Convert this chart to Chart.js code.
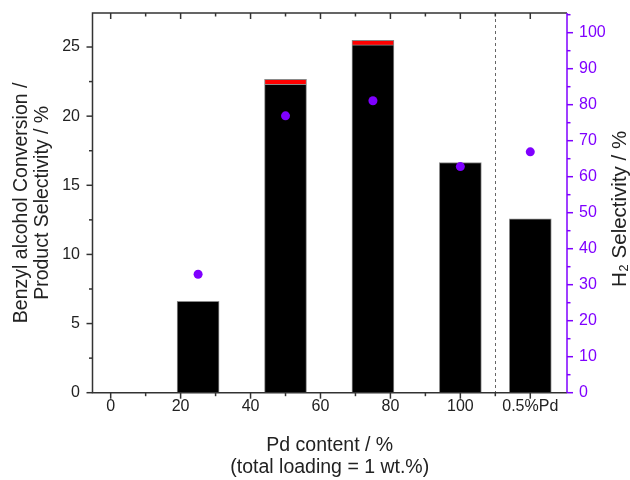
<!DOCTYPE html>
<html><head><meta charset="utf-8">
<script src="https://cdn.jsdelivr.net/npm/chart.js@4/dist/chart.umd.min.js"></script>
<style>html,body{margin:0;padding:0;background:#fff}</style>
</head><body>
<canvas id="c" width="630" height="480"></canvas>
<script>
// ---- data ----
const xPositions = [25, 50, 75, 100, 120];
const conversion = [6.6, 22.3, 25.15, 16.65, 12.57];
const productExtra = [0, 0.36, 0.33, 0, 0];
const h2Selectivity = [32.9, 76.9, 81.1, 62.8, 66.9];
const xTickValues = [0, 20, 40, 60, 80, 100, 120];
const xTickLabels = ['0', '20', '40', '60', '80', '100', '0.5%Pd'];
const xMinorTicks = [10, 30, 50, 70, 90, 110];
const yTickValues = [0, 5, 10, 15, 20, 25];
const yMinorTicks = [2.5, 7.5, 12.5, 17.5, 22.5];
const y2TickValues = [0, 10, 20, 30, 40, 50, 60, 70, 80, 90, 100];
const y2MinorTicks = [5, 15, 25, 35, 45, 55, 65, 75, 85, 95, 105];
const separatorX = 110;

const PURPLE = '#7f00ff';
const TEXT = '#222';
const FRAME = '#333';
const FAMILY = '"Liberation Sans", Arial, sans-serif';

const framePlugin = {
  id: 'frame',
  afterDraw(chart) {
    const {ctx, chartArea: a, scales} = chart;
    const xs = scales.x, ys = scales.y, y2 = scales.y2;
    ctx.save();
    // dashed separator
    ctx.strokeStyle = '#666';
    ctx.lineWidth = 1;
    ctx.setLineDash([3, 3]);
    const sx = Math.round(xs.getPixelForValue(separatorX)) + 0.5;
    ctx.beginPath(); ctx.moveTo(sx, a.top); ctx.lineTo(sx, a.bottom); ctx.stroke();
    ctx.setLineDash([]);
    // frame
    ctx.strokeStyle = FRAME;
    ctx.lineWidth = 1.5;
    ctx.beginPath();
    ctx.moveTo(a.right, a.top); ctx.lineTo(a.left, a.top); ctx.lineTo(a.left, a.bottom); ctx.lineTo(a.right, a.bottom);
    ctx.stroke();
    const tick = (x1, y1, x2, y2_) => { ctx.beginPath(); ctx.moveTo(x1, y1); ctx.lineTo(x2, y2_); ctx.stroke(); };
    // x ticks: bottom outward, top inward
    for (const v of xTickValues) {
      const p = xs.getPixelForValue(v);
      tick(p, a.bottom, p, a.bottom + 6);
      tick(p, a.top, p, a.top + 6);
    }
    for (const v of xMinorTicks) {
      const p = xs.getPixelForValue(v);
      tick(p, a.bottom, p, a.bottom + 3.5);
      tick(p, a.top, p, a.top + 3.5);
    }
    // left ticks outward
    for (const v of yTickValues) { const p = ys.getPixelForValue(v); tick(a.left, p, a.left - 6, p); }
    for (const v of yMinorTicks) { const p = ys.getPixelForValue(v); tick(a.left, p, a.left - 3.5, p); }
    // right axis purple
    ctx.strokeStyle = PURPLE;
    tick(a.right, a.top, a.right, a.bottom);
    for (const v of y2TickValues) { const p = y2.getPixelForValue(v); tick(a.right, p, a.right + 6, p); }
    for (const v of y2MinorTicks) { const p = y2.getPixelForValue(v); tick(a.right, p, a.right + 3.5, p); }
    // right title, reading bottom to top
    ctx.fillStyle = TEXT;
    ctx.font = '20.5px ' + FAMILY;
    ctx.textAlign = 'center';
    ctx.textBaseline = 'middle';
    ctx.translate(a.right + 53.5, (a.top + a.bottom) / 2 + 6);
    ctx.rotate(-Math.PI / 2);
    ctx.fillText('H\u2082 Selectivity / %', 0, 0);
    ctx.restore();
  }
};

const noEdgePadding = s => { s.paddingTop = 0; s.paddingBottom = 0; };

new Chart(document.getElementById('c'), {
  data: {
    datasets: [
      {
        type: 'bar', label: 'Benzyl alcohol conversion',
        data: xPositions.map((x, i) => ({x, y: conversion[i]})),
        backgroundColor: '#000', borderColor: '#8a8a8a', borderWidth: 1,
        barThickness: 42, stack: 's', yAxisID: 'y', order: 2
      },
      {
        type: 'bar', label: 'Product selectivity',
        data: xPositions.map((x, i) => ({x, y: productExtra[i] > 0 ? productExtra[i] : null})),
        backgroundColor: '#ff0000', borderColor: '#8a8a8a', borderWidth: 1,
        barThickness: 42, stack: 's', yAxisID: 'y', order: 2
      },
      {
        type: 'scatter', label: 'H2 selectivity',
        data: xPositions.map((x, i) => ({x, y: h2Selectivity[i]})),
        backgroundColor: PURPLE, borderColor: PURPLE, borderWidth: 0,
        pointRadius: 4.5, yAxisID: 'y2', order: 1
      }
    ]
  },
  plugins: [framePlugin],
  options: {
    responsive: false,
    devicePixelRatio: 1,
    animation: false,
    layout: {padding: {top: 13, left: 0, right: 0, bottom: 0}},
    plugins: {legend: {display: false}, tooltip: {enabled: false}},
    scales: {
      x: {
        type: 'linear', position: 'bottom', min: -5.2, max: 130.5, stacked: true, offset: false,
        grid: {display: false, drawTicks: false, offset: false}, border: {display: false},
        afterBuildTicks: s => { s.ticks = xTickValues.map(v => ({value: v})); },
        afterFit: s => { s.height = 87.3; s.paddingLeft = 0; s.paddingRight = 0; },
        ticks: {
          autoSkip: false, maxRotation: 0, padding: 4, color: TEXT,
          font: {family: FAMILY, size: 16},
          callback: v => xTickLabels[xTickValues.indexOf(v)]
        },
        title: {
          display: true, text: ['Pd content / %', '(total loading = 1 wt.%)'], color: TEXT,
          font: {family: FAMILY, size: 19.5, lineHeight: 1.1}, padding: {top: 0, bottom: 2}
        }
      },
      y: {
        type: 'linear', position: 'left', min: 0, max: 27.46, stacked: true,
        grid: {display: false, drawTicks: false}, border: {display: false},
        afterBuildTicks: s => { s.ticks = yTickValues.map(v => ({value: v})); },
        afterFit: s => { s.width = 92.5; noEdgePadding(s); },
        ticks: {padding: 12.5, color: TEXT, font: {family: FAMILY, size: 16}},
        title: {
          display: true, text: ['Benzyl alcohol Conversion /', 'Product Selectivity / %'], color: TEXT,
          font: {family: FAMILY, size: 19.5, lineHeight: 1.05}, padding: {top: 11.5, bottom: 0}
        }
      },
      y2: {
        type: 'linear', position: 'right', min: 0, max: 105.47,
        grid: {display: false, drawTicks: false}, border: {display: false},
        afterBuildTicks: s => { s.ticks = y2TickValues.map(v => ({value: v})); },
        afterFit: s => { s.width = 63; noEdgePadding(s); },
        ticks: {padding: 12, color: PURPLE, font: {family: FAMILY, size: 16}}
      }
    }
  }
});
</script>
</body></html>
